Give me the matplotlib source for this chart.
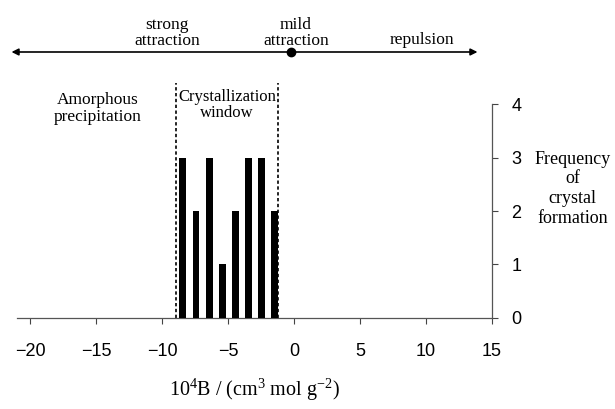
import matplotlib
matplotlib.use("Agg")
import matplotlib.pyplot as plt

plt.rcParams['mathtext.fontset'] = 'custom'
plt.rcParams['mathtext.rm'] = 'Liberation Serif'
plt.rcParams['mathtext.it'] = 'Liberation Serif:italic'

# second virial coefficient of each crystallization condition (10^4 B)
b_values = [-8.45, -7.42, -6.40, -5.44, -4.43, -3.43, -2.48, -1.46]
freq = [3, 2, 3, 1, 2, 3, 3, 2]
window = [-8.94, -1.21]
x_ticks = [-20, -15, -10, -5, 0, 5, 10, 15]
y_ticks = [0, 1, 2, 3, 4]

serif = 'Liberation Serif'
sans = 'Liberation Sans'

fig = plt.figure(figsize=(6.15, 4.09), dpi=100)
ax = fig.add_axes([0.0273, 0.2232, 0.7727, 0.5213])

ax.bar(b_values, freq, width=0.52, color='black', zorder=3)

# crystallization window boundaries
for xw in window:
    ax.plot([xw, xw], [0, 4.4], color='black', lw=1.2, ls=(0, (2, 1.5)), clip_on=False)

ax.set_xlim(-21, 15)
ax.set_ylim(0, 4)
ax.set_xticks(x_ticks)
ax.set_xticklabels([str(t).replace('-', '\u2212') for t in x_ticks], fontfamily=sans, fontsize=13)
ax.set_yticks(y_ticks)
ax.set_yticklabels([str(t) for t in y_ticks], fontfamily=sans, fontsize=13)
ax.yaxis.tick_right()
ax.tick_params(axis='x', direction='out', length=4, width=0.8, color='#444444', pad=14)
ax.tick_params(axis='y', direction='out', length=4, width=0.8, color='#444444', pad=10)

for s in ['top', 'left']:
    ax.spines[s].set_visible(False)
for s in ['bottom', 'right']:
    ax.spines[s].set_color('#555555')
    ax.spines[s].set_linewidth(0.9)

ax.set_xlabel(r'10$^4$B / (cm$^3$ mol g$^{-2}$)', fontfamily=serif, fontsize=14.5, labelpad=12)

# interaction scale above the plot
ax.annotate('', xy=(-21.4, 4.985), xytext=(13.9, 4.985),
            arrowprops=dict(arrowstyle='<|-|>', color='black', lw=1.2,
                            mutation_scale=10, shrinkA=0, shrinkB=0),
            annotation_clip=False)
ax.plot([-0.2], [4.985], 'o', color='black', ms=6, clip_on=False)

ax.text(-9.6, 5.35, 'strong\nattraction', ha='center', va='center', fontfamily=serif,
        fontsize=12.5, linespacing=1.0)
ax.text(0.15, 5.35, 'mild\nattraction', ha='center', va='center', fontfamily=serif,
        fontsize=12.5, linespacing=1.0)
ax.text(9.7, 5.21, 'repulsion', ha='center', va='center', fontfamily=serif, fontsize=12.5)

ax.text(-14.9, 3.925, 'Amorphous\nprecipitation', ha='center', va='center', fontfamily=serif,
        fontsize=12.5, linespacing=1.05)
ax.text(-5.08, 3.99, 'Crystallization\nwindow', ha='center', va='center', fontfamily=serif,
        fontsize=12, linespacing=1.05)

ax.text(21.1, 2.42, 'Frequency\nof\ncrystal\nformation', ha='center', va='center',
        fontfamily=serif, fontsize=13, linespacing=1.2, clip_on=False)

fig.savefig('out.png', dpi=100)
